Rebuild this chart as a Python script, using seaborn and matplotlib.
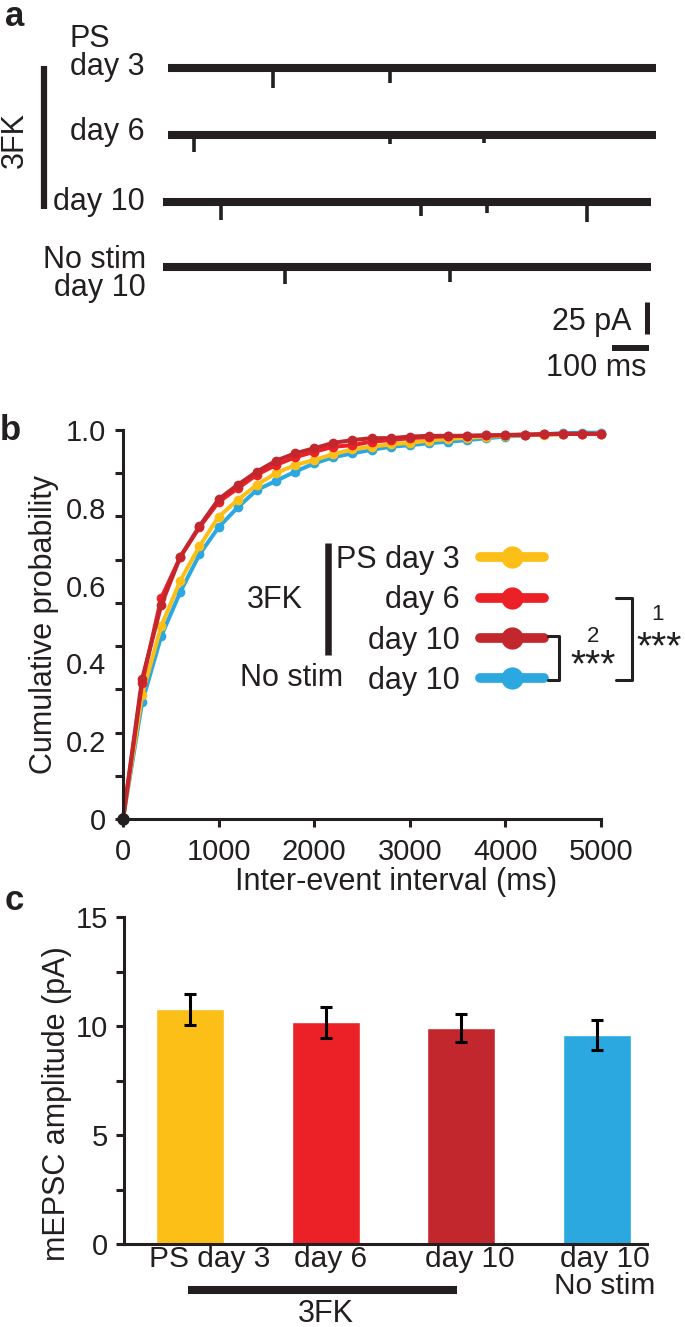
import numpy as np
import pandas as pd
import matplotlib
matplotlib.use("Agg")
import matplotlib.pyplot as plt
import matplotlib.transforms as mtransforms
import seaborn as sns

# ---- data ----
interval_ms = [0, 200, 400, 600, 800, 1000, 1200, 1400, 1600, 1800, 2000, 2200, 2400,
               2600, 2800, 3000, 3200, 3400, 3600, 3800, 4000, 4200, 4400, 4600, 4800, 5000]
cum_ps_day3 = [0, 0.32, 0.496, 0.613, 0.701, 0.777, 0.820, 0.859, 0.889, 0.910, 0.923, 0.938, 0.950,
               0.957, 0.963, 0.967, 0.973, 0.977, 0.980, 0.983, 0.985, 0.987, 0.988, 0.989, 0.990, 0.990]
cum_day6 = [0, 0.35, 0.568, 0.674, 0.750, 0.815, 0.850, 0.885, 0.910, 0.930, 0.944, 0.957, 0.961,
            0.970, 0.974, 0.979, 0.982, 0.984, 0.985, 0.986, 0.987, 0.988, 0.989, 0.990, 0.990, 0.990]
cum_day10 = [0, 0.36, 0.550, 0.674, 0.753, 0.822, 0.859, 0.893, 0.921, 0.940, 0.953, 0.967, 0.974,
             0.979, 0.979, 0.983, 0.985, 0.985, 0.985, 0.986, 0.987, 0.988, 0.989, 0.990, 0.990, 0.990]
cum_nostim = [0, 0.30, 0.470, 0.584, 0.680, 0.750, 0.801, 0.846, 0.869, 0.893, 0.914, 0.930, 0.940,
              0.949, 0.957, 0.961, 0.966, 0.970, 0.974, 0.979, 0.983, 0.986, 0.989, 0.992, 0.993, 0.993]

groups = ["PS day 3", "day 6", "day 10", "day 10\nNo stim"]
amp_mean = [10.77, 10.17, 9.90, 9.58]
amp_sem = [0.72, 0.72, 0.63, 0.68]

# example traces: mEPSC event times (ms from trace start) and amplitudes (pA)
trace_labels = ["PS\nday 3", "day 6", "day 10", "No stim\nday 10"]
event_times = [[284, 600], [70, 600, 854], [157, 697, 876, 1146], [330, 776]]
event_amps = [[16, 11.5], [13, 7, 6], [14, 11, 8.5, 15.5], [13, 11.5]]
trace_len_ms = 1320

# ---- style ----
K = "#231F20"
c_ps3, c_d6, c_d10, c_ns = "#FCBF17", "#EC2027", "#C3272E", "#2CA8E0"

sns.set_style("ticks")
plt.rcParams["font.family"] = ["Liberation Sans", "DejaVu Sans"]
plt.rcParams["text.color"] = K
plt.rcParams["axes.labelcolor"] = K
plt.rcParams["xtick.color"] = K
plt.rcParams["ytick.color"] = K

W, H = 685, 1327
fig = plt.figure(figsize=(W / 100, H / 100), dpi=100)
px = mtransforms.Affine2D().scale(1 / W, -1 / H).translate(0, 1) + fig.transFigure


def frame(x0, y_top, x1, y_bot):
    return [x0 / W, 1 - y_bot / H, (x1 - x0) / W, (y_bot - y_top) / H]


axb = fig.add_axes(frame(123, 430, 601, 819))
axc = fig.add_axes(frame(124, 917, 647, 1244))
ann = fig.add_axes([0, 0, 1, 1])
ann.set_xlim(0, W)
ann.set_ylim(H, 0)
ann.axis("off")

# ---- panel a: example traces ----
PX_PER_MS = 0.37
PX_PER_PA = 1.28
trace_x0 = [168, 168, 163, 163]
trace_y0 = [68, 135, 202, 267]
for i in range(len(trace_labels)):
    x0, y0 = trace_x0[i], trace_y0[i]
    ann.plot([x0, x0 + trace_len_ms * PX_PER_MS], [y0, y0], color=K, lw=5.8, solid_capstyle="butt")
    xs = x0 + np.array(event_times[i]) * PX_PER_MS
    ann.vlines(xs, y0, y0 + np.array(event_amps[i]) * PX_PER_PA, color=K, lw=2.6)

fs = 22
ann.text(15, 16, "a", fontsize=25, fontweight="bold", ha="center", va="center")
ann.text(70, 53, trace_labels[0], fontsize=fs, ha="left", va="center", linespacing=0.88)
ann.text(145, 132, trace_labels[1], fontsize=fs, ha="right", va="center")
ann.text(145, 202, trace_labels[2], fontsize=fs, ha="right", va="center")
ann.text(146, 274, trace_labels[3], fontsize=fs, ha="right", va="center", linespacing=0.95)
ann.plot([44, 44], [66, 209], color=K, lw=4.5, solid_capstyle="butt")
ann.text(15, 140, "3FK", fontsize=fs, rotation=90, ha="center", va="center")
# scale bars
ann.plot([647, 647], [302, 302 + 25 * PX_PER_PA], color=K, lw=3.6, solid_capstyle="butt")
ann.plot([649 - 100 * PX_PER_MS, 649], [348, 348], color=K, lw=4.3, solid_capstyle="butt")
ann.text(632, 322, "25 pA", fontsize=fs, ha="right", va="center")
ann.text(596, 368, "100 ms", fontsize=fs, ha="center", va="center")

# ---- panel b: cumulative probability ----
names = ["No stim day 10", "PS day 3", "3FK day 6", "3FK day 10"]
series = [cum_nostim, cum_ps_day3, cum_day6, cum_day10]
df = pd.DataFrame({
    "interval": interval_ms * len(names),
    "cum": sum(series, []),
    "group": sum([[n] * len(interval_ms) for n in names], []),
})
palette = dict(zip(names, [c_ns, c_ps3, c_d6, c_d10]))
sns.lineplot(data=df, x="interval", y="cum", hue="group", hue_order=names, palette=palette,
             marker="o", markersize=7, mew=0, linewidth=2.9, legend=False, ax=axb, clip_on=False)
lines = list(axb.get_lines())
axb.plot(interval_ms[:1], cum_day10[:1], "o", color=K, ms=8, clip_on=False, zorder=5)

axb.set_xlim(0, 5000)
axb.set_ylim(0, 1)
axb.set_xticks([0, 1000, 2000, 3000, 4000, 5000])
axb.set_yticks([0, 0.2, 0.4, 0.6, 0.8, 1.0])
axb.set_yticklabels(["0", "0.2", "0.4", "0.6", "0.8", "1.0"])
axb.set_yticks(np.linspace(0, 1, 10), minor=True)
axb.yaxis.remove_overlapping_locs = False
axb.tick_params(axis="y", which="major", length=0, pad=12, labelsize=21)
axb.tick_params(axis="y", which="minor", length=5.8, width=2.2, direction="out")
axb.tick_params(axis="x", which="major", length=5.8, width=2.2, direction="out", pad=8, labelsize=21)
for s in ["top", "right"]:
    axb.spines[s].set_visible(False)
for s in ["left", "bottom"]:
    axb.spines[s].set_linewidth(2.2)
    axb.spines[s].set_color(K)
axb.set_xlabel("Inter-event interval (ms)", fontsize=fs, va="center")
axb.xaxis.set_label_coords(0.571, -0.162)
axb.set_ylabel("Cumulative probability", fontsize=fs, va="center")
axb.yaxis.set_label_coords(-0.165, 0.5)

leg = axb.legend([lines[1], lines[2], lines[3], lines[0]], ["PS day 3", "day 6", "day 10", "day 10"],
                 loc="upper right", bbox_to_anchor=(544, 545), bbox_transform=px,
                 markerfirst=False, frameon=False, fontsize=fs, handlelength=2.1,
                 handletextpad=0.65, labelspacing=0.34, borderpad=0, borderaxespad=0)
for h in leg.legend_handles:
    h.set_linewidth(7)
    h.set_markersize(16)

ann.text(10, 430, "b", fontsize=25, fontweight="bold", ha="center", va="center")
ann.text(275, 600, "3FK", fontsize=fs, ha="center", va="center")
ann.plot([328, 328], [543, 655], color=K, lw=4.7, solid_capstyle="butt")
ann.text(292, 678, "No stim", fontsize=fs, ha="center", va="center")
ann.plot([548, 559, 559, 548], [636, 636, 680, 680], color=K, lw=2.2)
ann.plot([616, 632, 632, 616], [598, 598, 680, 680], color=K, lw=2.2)
ann.text(593, 637, "2", fontsize=16, ha="center", va="center")
ann.text(593, 676, "***", fontsize=28, ha="center", va="baseline")
ann.text(658, 615, "1", fontsize=16, ha="center", va="center")
ann.text(659, 658, "***", fontsize=28, ha="center", va="baseline")

# ---- panel c: mEPSC amplitude ----
sns.barplot(x=groups, y=amp_mean, hue=groups, palette=[c_ps3, c_d6, c_d10, c_ns], legend=False,
            errorbar=None, width=0.5, saturation=1, ax=axc)
axc.errorbar(np.arange(len(groups)), amp_mean, yerr=amp_sem, fmt="none", ecolor="black",
             elinewidth=2.2, capsize=4.3, capthick=2.2, zorder=3)
axc.set_xlim(-0.486, 3.368)
axc.set_ylim(0, 15)
axc.set_yticks([0, 5, 10, 15])
axc.set_yticks([2.5, 7.5, 12.5], minor=True)
axc.tick_params(axis="y", which="both", length=5.8, width=2.2, direction="out", pad=5.8, labelsize=21)
axc.tick_params(axis="x", length=0, pad=1, labelsize=21.5)
axc.set_xticks(range(len(groups)))
axc.set_xticklabels(groups, linespacing=0.95)
for lab, dx in zip(axc.get_xticklabels(), [20, 5, 8, 8]):
    lab.set_transform(lab.get_transform() + mtransforms.ScaledTranslation(dx / 100, 0, fig.dpi_scale_trans))
for s in ["top", "right"]:
    axc.spines[s].set_visible(False)
for s in ["left", "bottom"]:
    axc.spines[s].set_linewidth(2.2)
    axc.spines[s].set_color(K)
axc.set_xlabel("")
axc.set_ylabel("mEPSC amplitude (pA)", fontsize=fs, va="center")
axc.yaxis.set_label_coords(-0.128, 0.43)

ann.text(14, 900, "c", fontsize=25, fontweight="bold", ha="center", va="center")
ann.plot([188, 457], [1290, 1290], color=K, lw=5.8, solid_capstyle="butt")
ann.text(326, 1322, "3FK", fontsize=fs, ha="center", va="baseline")

fig.savefig("out.png", dpi=100)
